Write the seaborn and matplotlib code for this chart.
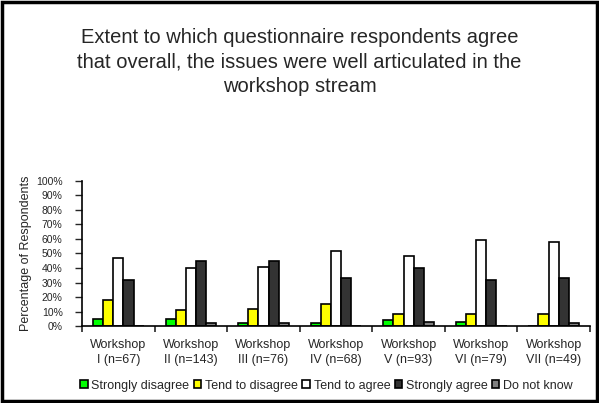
import matplotlib
matplotlib.use('Agg')
import matplotlib.pyplot as plt
import seaborn as sns
import pandas as pd
from matplotlib.patches import Rectangle
from matplotlib.ticker import FixedLocator, PercentFormatter

# data
workshops = ['Workshop\nI (n=67)', 'Workshop\nII (n=143)', 'Workshop\nIII (n=76)', 'Workshop\nIV (n=68)',
             'Workshop\nV (n=93)', 'Workshop\nVI (n=79)', 'Workshop\nVII (n=49)']
answers = ['Strongly disagree', 'Tend to disagree', 'Tend to agree', 'Strongly agree', 'Do not know']
strongly_disagree = [5, 5, 2, 2, 4, 3, 0]
tend_to_disagree = [18, 11, 12, 15, 8, 8, 8]
tend_to_agree = [47, 40, 41, 52, 48, 59, 58]
strongly_agree = [32, 45, 45, 33, 40, 32, 33]
do_not_know = [0, 2, 2, 0, 3, 0, 2]
colours = ['#00ff00', '#ffff00', '#ffffff', '#333333', '#808080']

series = [strongly_disagree, tend_to_disagree, tend_to_agree, strongly_agree, do_not_know]
rows = []
for ans, vals in zip(answers, series):
    for w, v in zip(workshops, vals):
        rows.append({'workshop': w, 'answer': ans, 'pct': v})
df = pd.DataFrame(rows)

sns.set_style('white')
plt.rcParams['font.family'] = ['Liberation Sans', 'DejaVu Sans']

fig = plt.figure(figsize=(5.99, 4.03), dpi=100)
ax = fig.add_axes([0.137, 0.191, 0.848, 0.36])

sns.barplot(data=df, x='workshop', y='pct', hue='answer', hue_order=answers, order=workshops,
            palette=colours, saturation=1, edgecolor='black', linewidth=1.2, width=0.7, ax=ax, legend=False)

ax.set_ylim(0, 100)
ax.set_xlim(-0.5, len(workshops) - 0.5)
ax.yaxis.set_major_locator(FixedLocator(range(0, 101, 10)))
ax.yaxis.set_major_formatter(PercentFormatter(decimals=0))
ax.set_ylabel('Percentage of Respondents', fontsize=9, labelpad=3)
ax.set_xlabel('')
ax.tick_params(axis='y', labelsize=7.5, direction='out', length=5, width=1, left=True, pad=9)
ax.tick_params(axis='x', which='major', labelsize=9, length=0, pad=9)
for lab in ax.get_xticklabels():
    lab.set_linespacing(1.35)
ax.set_xticks([i - 0.5 for i in range(len(workshops) + 1)], minor=True)
ax.tick_params(axis='x', which='minor', direction='out', length=4, width=1.2, bottom=True)
for s in ['top', 'right']:
    ax.spines[s].set_visible(False)
for s in ['left', 'bottom']:
    ax.spines[s].set_linewidth(1.2)
    ax.spines[s].set_color('black')

fig.text(0.5, 0.93, 'Extent to which questionnaire respondents agree\n'
         'that overall, the issues were well articulated in the\nworkshop stream',
         ha='center', va='top', fontsize=14.5, linespacing=1.35)

handles = [Rectangle((0, 0), 1, 1, facecolor=c, edgecolor='black', linewidth=1.2) for c in colours]
fig.legend(handles, answers, loc='center', bbox_to_anchor=(0.545, 0.043), ncol=5, fontsize=9,
           frameon=False, handlelength=0.6, handleheight=0.6, handletextpad=0.3, columnspacing=0.35)

fig.patches.append(Rectangle((0.004, 0.005), 0.992, 0.99, transform=fig.transFigure, fill=False,
                             edgecolor='black', linewidth=2.5))

plt.savefig('out.png', dpi=100)
